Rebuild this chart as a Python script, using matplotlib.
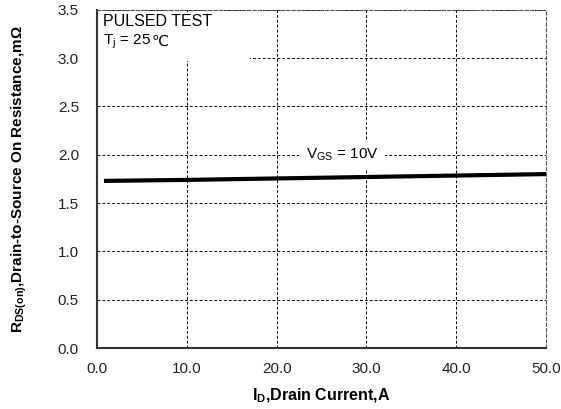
import matplotlib.pyplot as plt
from matplotlib.patches import Rectangle

plt.rcParams['font.family'] = ['Liberation Sans', 'DejaVu Sans']

# 数据
drain_current = [1.0, 10.0, 20.0, 30.0, 40.0, 50.0]
rds_on = [1.73, 1.74, 1.755, 1.77, 1.785, 1.80]
x_ticks = [0, 10, 20, 30, 40, 50]
y_ticks = [0.0, 0.5, 1.0, 1.5, 2.0, 2.5, 3.0, 3.5]

fig = plt.figure(figsize=(5.61, 4.09), dpi=100)
ax = fig.add_axes([0.173, 0.149, 0.8, 0.827])

ax.plot(drain_current, rds_on, color='black', linewidth=3, zorder=3)

ax.set_xlim(0, 50)
ax.set_ylim(0, 3.5)
ax.set_xticks(x_ticks)
ax.set_xticklabels([f'{v:.1f}' for v in x_ticks])
ax.set_yticks(y_ticks)
ax.set_yticklabels([f'{v:.1f}' for v in y_ticks])
ax.tick_params(length=0, labelsize=11, labelcolor='#222222')
ax.tick_params(axis='x', pad=10)
ax.tick_params(axis='y', pad=13)

ax.grid(True, color='black', linestyle=(0, (3, 2)), linewidth=0.7)
for s in ['left', 'bottom']:
    ax.spines[s].set_color('#333333')
    ax.spines[s].set_linewidth(1.5)
for s in ['top', 'right']:
    ax.spines[s].set_color('#555555')
    ax.spines[s].set_linestyle((0, (3, 2)))
    ax.spines[s].set_linewidth(0.8)

# 左上角说明框（遮住网格）
ax.add_patch(Rectangle((0.15, 2.975), 16.9, 0.5, facecolor='white',
                       edgecolor='none', zorder=2))
ax.text(0.7, 3.38, 'PULSED TEST', fontsize=11.5, va='center', zorder=4)
tj = ax.text(0.7, 3.17, r'T$_\mathregular{j}$ = 25', fontsize=11, va='center', zorder=4)
ax.annotate('℃', xy=(1, 0.5), xycoords=tj, va='center', ha='left',
            fontsize=11, family='DejaVu Sans', zorder=4)

ax.text(27.3, 2.0, r'V$_\mathregular{GS}$ = 10V', fontsize=11, ha='center',
        va='center', zorder=4,
        bbox=dict(facecolor='white', edgecolor='none', pad=5))

ax.set_xlabel(r'I$_\mathregular{D}$,Drain Current,A', fontsize=11.5, fontweight='bold', labelpad=8)
ax.set_ylabel(r'R$_\mathregular{DS(on)}$,Drain-to-Source On Resistance,m$\mathregular{\Omega}$',
              fontsize=11, fontweight='bold', labelpad=21)

plt.savefig('out.png', dpi=100)
